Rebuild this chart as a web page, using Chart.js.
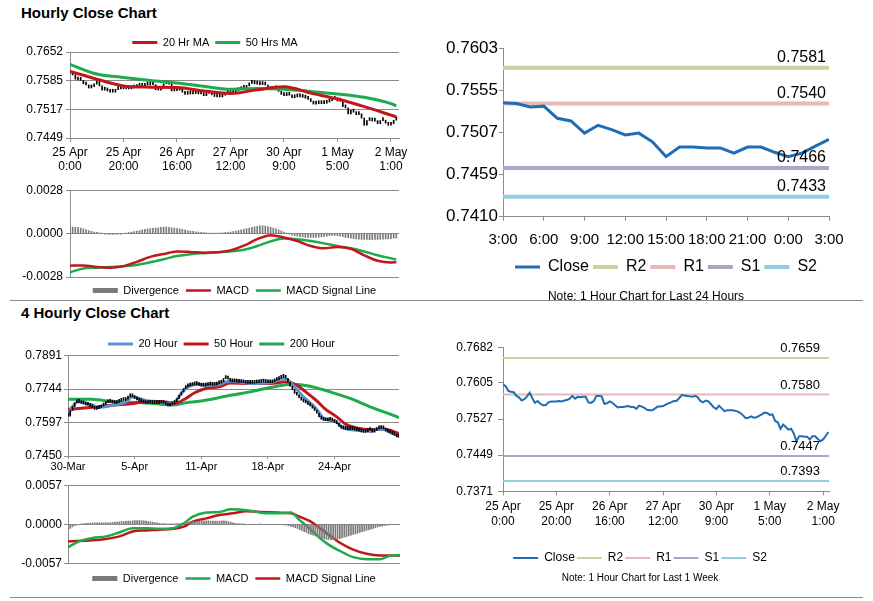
<!DOCTYPE html>
<html>
<head>
<meta charset="utf-8">
<title>AUD/USD Close Charts</title>
<script src="https://cdn.jsdelivr.net/npm/chart.js@4.4.0/dist/chart.umd.min.js"></script>
<style>
  body { margin: 0; background: #fff; }
  #page { position: relative; width: 873px; height: 601px; overflow: hidden; font-family: "Liberation Sans", Arial, sans-serif; }
  .heading { position: absolute; left: 21px; font-size: 15px; line-height: 15px; font-weight: bold; color: #000; }
  .box { position: absolute; }
  .rule { position: absolute; left: 10px; width: 853px; height: 1px; background: #8c8c8c; }
</style>
</head>
<body>
<div id="page">
  <div class="heading" style="top:5px">Hourly Close Chart</div>
  <div class="heading" style="top:305px">4 Hourly Close Chart</div>

  <div class="box" style="left:0;top:28px;width:420px;height:150px"><canvas id="hourlyPrice"></canvas></div>
  <div class="box" style="left:0;top:180px;width:420px;height:120px"><canvas id="hourlyMacd"></canvas></div>
  <div class="box" style="left:420px;top:30px;width:453px;height:274px"><canvas id="dayClose"></canvas></div>
  <div class="box" style="left:0;top:326px;width:420px;height:150px"><canvas id="fourHourPrice"></canvas></div>
  <div class="box" style="left:0;top:476px;width:420px;height:122px"><canvas id="fourHourMacd"></canvas></div>
  <div class="box" style="left:420px;top:330px;width:453px;height:255px"><canvas id="weekClose"></canvas></div>

  <div class="rule" style="top:300px"></div>
  <div class="rule" style="top:597px"></div>
</div>

<script>
// ---- hourly data, 25 Apr 0:00 .. 2 May 3:00 (123 hours) ----
const hourlyTickAt = [0, 20, 40, 60, 80, 100, 120];
const hourlyTickLabels = [["25 Apr", "0:00"], ["25 Apr", "20:00"], ["26 Apr", "16:00"], ["27 Apr", "12:00"],
  ["30 Apr", "9:00"], ["1 May", "5:00"], ["2 May", "1:00"]];

const hourlyClose = [
  0.7602, 0.7598, 0.7588, 0.7586, 0.7585, 0.7577, 0.7574, 0.7567, 0.7570, 0.7576,
  0.7584, 0.7572, 0.7562, 0.7566, 0.7560, 0.7557, 0.7557, 0.7563, 0.7565, 0.7565,
  0.7565, 0.7566, 0.7565, 0.7567, 0.7568, 0.7571, 0.7577, 0.7571, 0.7575, 0.7574,
  0.7575, 0.7575, 0.7563, 0.7562, 0.7566, 0.7577, 0.7577, 0.7576, 0.7560, 0.7561,
  0.7565, 0.7562, 0.7557, 0.7552, 0.7553, 0.7553, 0.7554, 0.7555, 0.7553, 0.7553,
  0.7549, 0.7556, 0.7554, 0.7551, 0.7547, 0.7546, 0.7546, 0.7550, 0.7554, 0.7554,
  0.7555, 0.7558, 0.7561, 0.7563, 0.7566, 0.7566, 0.7572, 0.7579, 0.7578, 0.7577,
  0.7576, 0.7575, 0.7577, 0.7574, 0.7566, 0.7563, 0.7567, 0.7565, 0.7559, 0.7552,
  0.7549, 0.7556, 0.7550, 0.7544, 0.7546, 0.7546, 0.7546, 0.7545, 0.7543, 0.7540,
  0.7535, 0.7529, 0.7530, 0.7533, 0.7530, 0.7531, 0.7534, 0.7537, 0.7541, 0.7540,
  0.7536, 0.7537, 0.7523, 0.7520, 0.7506, 0.7515, 0.7510, 0.7504, 0.7506, 0.7496,
  0.7479, 0.7490, 0.7490, 0.7489, 0.7489, 0.7483, 0.7490, 0.7490, 0.7484, 0.7479,
  0.7483, 0.7491, 0.7499
];

const hourlyMaX = [0, 10, 20, 30, 40, 50, 60, 70, 80, 90, 100, 110, 120, 122];
const hourlyMa20 = [0.7606, 0.7588, 0.7572, 0.7569, 0.7568, 0.7560, 0.7554, 0.7563, 0.7570, 0.7555, 0.7541, 0.7523, 0.7503, 0.7499];
const hourlyMa50 = [0.7623, 0.7600, 0.7592, 0.7585, 0.7579, 0.7571, 0.7564, 0.7566, 0.7564, 0.7559, 0.7553, 0.7545, 0.7530, 0.7525];

const hourlyMacdX = [0, 5, 10, 15, 20, 25, 30, 35, 40, 45, 50, 55, 60, 65, 70, 75, 80, 85, 90, 95, 100, 105, 110, 115, 120, 122];
const hourlyMacd = [-0.00207, -0.00205, -0.00215, -0.0022, -0.0021, -0.00182, -0.0015, -0.00132, -0.00115, -0.00118,
  -0.00123, -0.0012, -0.00108, -0.00078, -0.00036, -0.0001, -0.00025, -0.00048, -0.0008, -0.00095,
  -0.00086, -0.00098, -0.0014, -0.00175, -0.00186, -0.00185];
const hourlySignal = [-0.0025, -0.00225, -0.0022, -0.00215, -0.0021, -0.00202, -0.00185, -0.00165, -0.00145, -0.00133,
  -0.00126, -0.0012, -0.00115, -0.00104, -0.0008, -0.0005, -0.00032, -0.00036, -0.00048, -0.00063,
  -0.0008, -0.00095, -0.00115, -0.0014, -0.0016, -0.00168];
const hourlyDivergence = [
  0.00042, 0.00042, 0.0004, 0.0004, 0.00035, 0.0003, 0.00025, 0.0002, 0.00015, 0.0001,
  0.00008, 0.00005, 0.00003, -0.00003, -0.00004, -0.00005, -0.00005, -0.00004, -0.00003, -0.00002,
  0, 0.00003, 0.00006, 0.0001, 0.00013, 0.00016, 0.0002, 0.00024, 0.00027, 0.0003,
  0.00032, 0.00034, 0.00036, 0.00038, 0.0004, 0.00042, 0.00042, 0.0004, 0.00038, 0.00035,
  0.00032, 0.0003, 0.00027, 0.00024, 0.0002, 0.00017, 0.00015, 0.00012, 0.0001, 0.00008,
  0.00006, 0.00005, 0.00004, 0.00004, 0.00003, 0.00003, 0.00004, 0.00005, 0.00006, 0.00008,
  0.0001, 0.00013, 0.00016, 0.0002, 0.00024, 0.00028, 0.00032, 0.00036, 0.0004, 0.00044,
  0.00047, 0.0005, 0.0005, 0.00048, 0.00045, 0.0004, 0.00035, 0.0003, 0.00024, 0.00018,
  0.0001, 0.00003, -0.00004, -0.0001, -0.00014, -0.00017, -0.0002, -0.00022, -0.00024, -0.00025,
  -0.00025, -0.00025, -0.00024, -0.00023, -0.00022, -0.0002, -0.00017, -0.00014, -0.00012, -0.00012,
  -0.00013, -0.00016, -0.0002, -0.00024, -0.00027, -0.0003, -0.00032, -0.00034, -0.00036, -0.00037,
  -0.00038, -0.00038, -0.00039, -0.00039, -0.00038, -0.00038, -0.00037, -0.00036, -0.00035, -0.00034,
  -0.00032, -0.0003, -0.00028
];

// last 24 hours = hourly closes from 1 May 3:00
const dayStart = 98;
const dayTickAt = [0, 3, 6, 9, 12, 15, 18, 21, 24];
const dayTickLabels = ["3:00", "6:00", "9:00", "12:00", "15:00", "18:00", "21:00", "0:00", "3:00"];

const levelNames = ["R2", "R1", "S1", "S2"];
const dayLevels = [0.7581, 0.7540, 0.7466, 0.7433];
const weekLevels = [0.7659, 0.7580, 0.7447, 0.7393];

// ---- 4 hourly data, 30 Mar .. 2 May (150 bars) ----
const fourHourTickAt = [0, 30, 60, 90, 120];
const fourHourTickLabels = ["30-Mar", "5-Apr", "11-Apr", "18-Apr", "24-Apr"];
const fourHourClose = [
  0.7625, 0.7650, 0.7667, 0.7684, 0.7690, 0.7686, 0.7681, 0.7679, 0.7675, 0.7673,
  0.7668, 0.7662, 0.7655, 0.7658, 0.7662, 0.7670, 0.7676, 0.7684, 0.7688, 0.7686,
  0.7683, 0.7681, 0.7686, 0.7690, 0.7695, 0.7694, 0.7700, 0.7710, 0.7714, 0.7710,
  0.7703, 0.7697, 0.7692, 0.7688, 0.7683, 0.7681, 0.7684, 0.7682, 0.7680, 0.7681,
  0.7680, 0.7682, 0.7684, 0.7681, 0.7675, 0.7670, 0.7675, 0.7680, 0.7688, 0.7702,
  0.7718, 0.7732, 0.7746, 0.7754, 0.7757, 0.7760, 0.7763, 0.7764, 0.7764, 0.7760,
  0.7757, 0.7757, 0.7760, 0.7764, 0.7762, 0.7761, 0.7762, 0.7767, 0.7770, 0.7776,
  0.7790, 0.7798, 0.7788, 0.7778, 0.7776, 0.7776, 0.7775, 0.7774, 0.7773, 0.7772,
  0.7770, 0.7769, 0.7769, 0.7770, 0.7771, 0.7772, 0.7774, 0.7775, 0.7776, 0.7774,
  0.7772, 0.7772, 0.7776, 0.7782, 0.7786, 0.7792, 0.7796, 0.7798, 0.7792, 0.7775,
  0.7757, 0.7742, 0.7725, 0.7717, 0.7706, 0.7696, 0.7688, 0.7683, 0.7676, 0.7670,
  0.7660, 0.7650, 0.7638, 0.7622, 0.7612, 0.7606, 0.7605, 0.7607, 0.7609, 0.7604,
  0.7598, 0.7592, 0.7580, 0.7572, 0.7569, 0.7567, 0.7566, 0.7566, 0.7566, 0.7564,
  0.7561, 0.7559, 0.7556, 0.7554, 0.7557, 0.7562, 0.7566, 0.7555, 0.7562, 0.7569,
  0.7573, 0.7571, 0.7569, 0.7560, 0.7555, 0.7551, 0.7545, 0.7540, 0.7534, 0.7532
];
const fourHourMa20X = [0, 2, 5, 8, 11, 14, 17, 21, 26, 29, 32, 36, 41, 45, 48, 51, 54, 59, 63, 68,
  71, 74, 82, 91, 97, 100, 103, 106, 109, 112, 115, 118, 121, 124, 127, 133, 136, 139, 142, 145, 149];
const fourHourMa20 = [0.7630, 0.7667, 0.7688, 0.7681, 0.7674, 0.7664, 0.7667, 0.7674, 0.7688, 0.7710,
  0.7703, 0.7692, 0.7685, 0.7681, 0.7688, 0.7725, 0.7754, 0.7764, 0.7761, 0.7764,
  0.7776, 0.7779, 0.7769, 0.7772, 0.7791, 0.7776, 0.7742, 0.7710, 0.7684, 0.7655,
  0.7616, 0.7606, 0.7597, 0.7573, 0.7566, 0.7561, 0.7558, 0.7566, 0.7566, 0.7554, 0.7539];
const fourHourMa50X = [0, 6, 14, 21, 29, 36, 44, 48, 53, 57, 62, 68, 73, 82, 91, 98, 103, 107, 112, 116, 121, 125, 130, 136, 142, 149];
const fourHourMa50 = [0.7655, 0.7660, 0.7667, 0.7674, 0.7681, 0.7691, 0.7688, 0.7681, 0.7703, 0.7728,
  0.7747, 0.7754, 0.7771, 0.7769, 0.7769, 0.7776, 0.7761, 0.7732, 0.7692, 0.7655,
  0.7622, 0.7590, 0.7573, 0.7566, 0.7569, 0.7549];
const fourHourMa200X = [0, 11, 21, 32, 42, 47, 53, 62, 73, 82, 91, 101, 109, 118, 127, 136, 145, 149];
const fourHourMa200 = [0.7700, 0.7699, 0.7688, 0.7685, 0.7678, 0.7674, 0.7684, 0.7695, 0.7717, 0.7732,
  0.7751, 0.7766, 0.7757, 0.7732, 0.7703, 0.7666, 0.7634, 0.7619];

const fourHourMacdX = [0, 5, 11, 17, 23, 29, 35, 41, 47, 52, 56, 62, 68, 73, 77, 83, 89, 94, 100, 104,
  109, 113, 118, 122, 128, 134, 140, 144, 149];
const fourHourMacd = [-0.00335, -0.0025, -0.002, -0.00177, -0.0012, -0.00057, -0.00057, -0.00067, -0.00057, 0.00014,
  0.0011, 0.0017, 0.0018, 0.0022, 0.00215, 0.0019, 0.0016, 0.0016, 0.0017, 0.0006,
  -0.0008, -0.002, -0.0032, -0.0039, -0.0048, -0.0051, -0.0051, -0.00465, -0.0045];
const fourHourSignalX = [0, 11, 17, 23, 29, 35, 41, 47, 52, 56, 62, 68, 74, 80, 86, 94, 100, 104, 109, 113,
  118, 122, 128, 134, 140, 149];
const fourHourSignal = [-0.0025, -0.00235, -0.00215, -0.00177, -0.00105, -0.0009, -0.0008, -0.00067, -0.00034, 0.00038,
  0.00086, 0.00134, 0.0016, 0.0019, 0.0018, 0.0017, 0.0016, 0.0011, 0.00038, -0.00057,
  -0.00177, -0.0027, -0.0037, -0.0043, -0.00455, -0.00455];
const fourHourDivergence = [
  -0.0008, -0.0006, -0.0004, -0.0002, -0.0001, 0, 0.00005, 0.0001, 0.00012, 0.00015,
  0.00018, 0.0002, 0.0002, 0.0002, 0.00022, 0.00022, 0.0002, 0.0002, 0.00022, 0.00025,
  0.00028, 0.0003, 0.00032, 0.00035, 0.00038, 0.0004, 0.00042, 0.00045, 0.00048, 0.0005,
  0.00052, 0.00055, 0.00055, 0.00052, 0.0005, 0.00045, 0.0004, 0.00035, 0.0003, 0.00025,
  0.0002, 0.00015, 0.0001, 0.00008, 0.00005, 0.00004, 0.00004, 0.00005, 0.00006, 0.00008,
  0.0001, 0.00015, 0.0002, 0.00025, 0.0003, 0.00035, 0.0004, 0.0004, 0.00042, 0.00045,
  0.00048, 0.0005, 0.0005, 0.0005, 0.00048, 0.00046, 0.00045, 0.00045, 0.00048, 0.0005,
  0.0005, 0.00045, 0.0004, 0.0003, 0.0002, 0.00015, 0.0001, 0.00008, 0.00005, 0.00003,
  0, -0.00003, -0.00005, -0.00005, -0.00003, 0, 0.00002, 0, -0.00002, -0.00003,
  -0.00003, -0.00002, 0, 0, -0.00002, -0.00004, -0.00006, -0.0001, -0.00015, -0.0002,
  -0.0003, -0.0004, -0.0005, -0.0006, -0.0008, -0.0009, -0.0011, -0.0012, -0.0014, -0.0015,
  -0.0016, -0.0017, -0.0018, -0.0019, -0.002, -0.0021, -0.0022, -0.0022, -0.0023, -0.0022,
  -0.0022, -0.0021, -0.0021, -0.002, -0.0019, -0.0018, -0.0017, -0.0016, -0.0015, -0.0014,
  -0.0013, -0.0012, -0.0011, -0.001, -0.0009, -0.0008, -0.0007, -0.0006, -0.0005, -0.0004,
  -0.0003, -0.00025, -0.0002, -0.00015, -0.0001, -0.00005, -0.00002, 0, 0, 0
];

// ---- y tick labels ----
const hourlyPriceTicks = [0.7652, 0.7585, 0.7517, 0.7449];
const hourlyMacdTicks = [0.0028, 0, -0.0028];
const dayTicks = [0.7603, 0.7555, 0.7507, 0.7459, 0.7410];
const fourHourPriceTicks = [0.7891, 0.7744, 0.7597, 0.7450];
const fourHourMacdTicks = [0.0057, 0, -0.0057];
const weekTicks = [0.7682, 0.7605, 0.7527, 0.7449, 0.7371];

// ---- styles ----
const GRID = "#8c8c8c";
const RED = "#c0161c";
const GREEN = "#1faa4e";
const BLUE20 = "#6390d2";
const CLOSE_BLUE = "#1f6db5";
const BAR_GRAY = "#7a7a7a";
const LEVEL_COLORS = ["#c3d69b", "#e6b9b8", "#b3a2c7", "#93cddd"];

Chart.defaults.font.family = '"Liberation Sans", Arial, sans-serif';
Chart.defaults.color = "#000";
Chart.defaults.animation = false;
Chart.defaults.events = [];
Chart.defaults.plugins.tooltip.enabled = false;
Chart.defaults.maintainAspectRatio = false;

const seq = (vals) => vals.map((v, i) => ({ x: i, y: v }));
const pts = (xs, ys) => xs.map((x, i) => ({ x: x, y: ys[i] }));
// each bar runs from the previous close to this close
const moves = (vals) => vals.map((v, i) => ({ x: i, y: [i ? vals[i - 1] : v, v] }));
const flat = (v, x1) => [{ x: 0, y: v }, { x: x1, y: v }];

function yAxis(min, max, ticks, width, size, tickLen, pad, grid) {
  return {
    min: min, max: max,
    afterBuildTicks: (s) => { s.ticks = ticks.map((v) => ({ value: v })); },
    afterFit: (s) => { s.width = width; },
    ticks: { callback: (v) => v.toFixed(4), font: { size: size }, padding: pad },
    grid: grid ? { color: GRID, tickLength: tickLen } : { drawOnChartArea: false, color: GRID, tickLength: tickLen },
    border: { color: GRID }
  };
}

// empty right-hand axis, only used to balance the legend / note centring
function spacer(width) {
  return {
    position: "right", min: 0, max: 1,
    ticks: { display: false }, grid: { display: false }, border: { display: false },
    afterFit: (s) => { s.width = width; }
  };
}

function xAxis(max, at, labels, height, size, tickLen, pad) {
  return {
    type: "linear", min: 0, max: max, offset: false,
    afterBuildTicks: (s) => { s.ticks = at.map((v) => ({ value: v })); },
    afterFit: (s) => { s.height = height; },
    ticks: { callback: (v, i) => labels[i], font: { size: size }, padding: pad, maxRotation: 0, autoSkip: false },
    grid: { drawOnChartArea: false, color: GRID, tickLength: tickLen, offset: false },
    border: { color: GRID }
  };
}

function hiddenX(max, height) {
  return {
    type: "linear", min: 0, max: max, offset: false,
    ticks: { display: false }, grid: { display: false }, border: { display: false },
    afterFit: (s) => { s.height = height; }
  };
}

function line(label, data, color, width, smooth) {
  return {
    label: label, data: data, borderColor: color, backgroundColor: color, borderWidth: width,
    pointRadius: 0, pointStyle: "line", tension: smooth ? 0.4 : 0,
    cubicInterpolationMode: smooth ? "monotone" : "default"
  };
}

function priceBars(vals) {
  return { type: "bar", label: "Price", data: moves(vals), backgroundColor: "#000", borderWidth: 0, barThickness: 1, minBarLength: 3 };
}

function divergenceBars(vals) {
  return { type: "bar", label: "Divergence", data: seq(vals), backgroundColor: BAR_GRAY, borderWidth: 0, barThickness: 1, pointStyle: "rect" };
}

// value labels written above the support / resistance lines
const levelLabels = {
  id: "levelLabels",
  afterDatasetsDraw(chart, args, opts) {
    const { ctx, chartArea } = chart;
    const y = chart.scales.y;
    ctx.save();
    ctx.font = opts.size + 'px "Liberation Sans", Arial, sans-serif';
    ctx.fillStyle = "#000";
    ctx.textAlign = "right";
    ctx.textBaseline = "bottom";
    chart.data.datasets.forEach((ds) => {
      if (ds.level === undefined) return;
      ctx.fillText(ds.level.toFixed(4), chartArea.right - opts.inset, y.getPixelForValue(ds.level) - opts.gap);
    });
    ctx.restore();
  }
};

function levelSets(levels, x1, width) {
  return levels.map((v, i) => Object.assign(line(levelNames[i], flat(v, x1), LEVEL_COLORS[i], width, false), { level: v }));
}

// ---- Hourly close with moving averages ----
new Chart(document.getElementById("hourlyPrice"), {
  type: "line",
  data: {
    datasets: [
      line("20 Hr MA", pts(hourlyMaX, hourlyMa20), RED, 3, true),
      line("50 Hrs MA", pts(hourlyMaX, hourlyMa50), GREEN, 3, true),
      priceBars(hourlyClose)
    ]
  },
  options: {
    layout: { padding: { left: 24, right: 14, top: 3, bottom: 0 } },
    plugins: {
      legend: {
        position: "top", maxHeight: 21,
        labels: { filter: (it) => it.datasetIndex < 2, usePointStyle: true, pointStyleWidth: 25, padding: 6, font: { size: 11 } }
      }
    },
    scales: {
      x: xAxis(123, hourlyTickAt, hourlyTickLabels, 40, 12, 4, 3),
      y: yAxis(0.7449, 0.7652, hourlyPriceTicks, 46, 12, 4, 3, true),
      pad: spacer(7)
    }
  }
});

// ---- Hourly MACD ----
new Chart(document.getElementById("hourlyMacd"), {
  type: "line",
  data: {
    datasets: [
      divergenceBars(hourlyDivergence),
      line("MACD", pts(hourlyMacdX, hourlyMacd), RED, 2.5, true),
      line("MACD Signal Line", pts(hourlyMacdX, hourlySignal), GREEN, 2.5, true)
    ]
  },
  options: {
    layout: { padding: { left: 10, right: 21, top: 8.3, bottom: 0 } },
    plugins: {
      legend: {
        position: "bottom", fullSize: false, maxHeight: 22,
        labels: { usePointStyle: true, pointStyleWidth: 25, boxHeight: 5, padding: 7, font: { size: 11 } }
      }
    },
    scales: {
      x: hiddenX(123, 1),
      y: yAxis(-0.0028, 0.0028, hourlyMacdTicks, 60, 12, 4, 3, true)
    }
  }
});

// ---- 1 hour chart, last 24 hours ----
new Chart(document.getElementById("dayClose"), {
  type: "line",
  plugins: [levelLabels],
  data: {
    datasets: [line("Close", seq(hourlyClose.slice(dayStart)), CLOSE_BLUE, 3, false)].concat(levelSets(dayLevels, 24, 4))
  },
  options: {
    layout: { padding: { left: 26, right: 27, top: 18.7, bottom: 0.6 } },
    plugins: {
      legend: {
        position: "bottom", fullSize: false,
        labels: { usePointStyle: true, pointStyleWidth: 25, padding: 4, font: { size: 16 } }
      },
      title: {
        display: true, position: "bottom", text: "Note: 1 Hour Chart for Last 24 Hours",
        font: { size: 12, weight: "normal" }, padding: { top: 4, bottom: 0 }
      },
      levelLabels: { size: 16, inset: 3, gap: 2 }
    },
    scales: {
      x: xAxis(24, dayTickAt, dayTickLabels, 38.3, 15, 4, 10),
      y: yAxis(0.7410, 0.7603, dayTicks, 57, 17, 4, 1, false),
      pad: spacer(17)
    }
  }
});

// ---- 4 hourly close with moving averages ----
new Chart(document.getElementById("fourHourPrice"), {
  type: "line",
  data: {
    datasets: [
      priceBars(fourHourClose),
      line("20 Hour", pts(fourHourMa20X, fourHourMa20), BLUE20, 3, true),
      line("50 Hour", pts(fourHourMa50X, fourHourMa50), RED, 3, true),
      line("200 Hour", pts(fourHourMa200X, fourHourMa200), GREEN, 3, true)
    ]
  },
  options: {
    layout: { padding: { left: 24, right: 1, top: 6.5, bottom: 0 } },
    plugins: {
      legend: {
        position: "top", maxHeight: 23.2,
        labels: { filter: (it) => it.datasetIndex > 0, usePointStyle: true, pointStyleWidth: 25, padding: 6, font: { size: 11 } }
      }
    },
    scales: {
      x: xAxis(149, fourHourTickAt, fourHourTickLabels, 20, 11, 3, 1),
      y: yAxis(0.7450, 0.7891, fourHourPriceTicks, 44, 12, 4, 2, true),
      pad: spacer(20)
    }
  }
});

// ---- 4 hourly MACD ----
new Chart(document.getElementById("fourHourMacd"), {
  type: "line",
  data: {
    datasets: [
      divergenceBars(fourHourDivergence),
      line("MACD", pts(fourHourMacdX, fourHourMacd), GREEN, 2.5, true),
      line("MACD Signal Line", pts(fourHourSignalX, fourHourSignal), RED, 2.5, true)
    ]
  },
  options: {
    layout: { padding: { left: 10, right: 20, top: 8, bottom: 4 } },
    plugins: {
      legend: {
        position: "bottom", fullSize: false, maxHeight: 28,
        labels: { usePointStyle: true, pointStyleWidth: 25, boxHeight: 5, padding: 7, font: { size: 11 } }
      }
    },
    scales: {
      x: hiddenX(149, 2.7),
      y: yAxis(-0.0057, 0.0057, fourHourMacdTicks, 58, 12, 4, 2, true)
    }
  }
});

// ---- 1 hour chart, last 1 week ----
new Chart(document.getElementById("weekClose"), {
  type: "line",
  plugins: [levelLabels],
  data: {
    datasets: [line("Close", seq(hourlyClose), CLOSE_BLUE, 2, false)].concat(levelSets(weekLevels, 122.2, 2))
  },
  options: {
    layout: { padding: { left: 31, right: 44, top: 17.3, bottom: 0.5 } },
    plugins: {
      legend: {
        position: "bottom", maxHeight: 20,
        labels: { usePointStyle: true, pointStyleWidth: 25, padding: 2, font: { size: 12 } }
      },
      title: {
        display: true, position: "bottom", text: "Note: 1 Hour Chart for Last 1 Week",
        font: { size: 10, weight: "normal" }, padding: { top: 2.5, bottom: 0 }
      },
      levelLabels: { size: 13, inset: 9, gap: 3 }
    },
    scales: {
      x: xAxis(122.2, hourlyTickAt, hourlyTickLabels, 58.7, 12, 4, 4.5),
      y: yAxis(0.7371, 0.7682, weekTicks, 52, 12, 5, 5, false)
    }
  }
});
</script>
</body>
</html>
